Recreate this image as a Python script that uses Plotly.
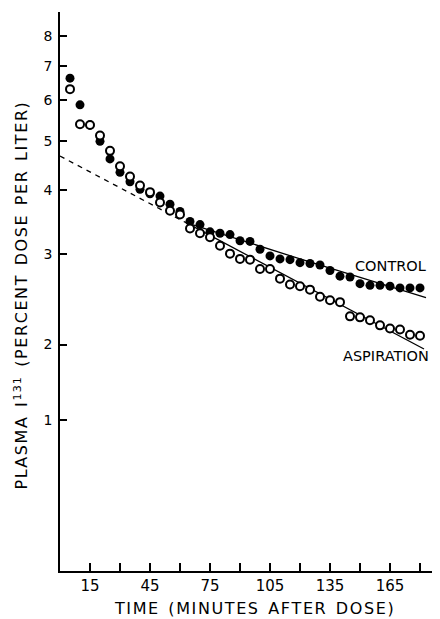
import plotly.graph_objects as go

# ---- data ----
time_min = [5, 10, 15, 20, 25, 30, 35, 40, 45, 50, 55, 60, 65, 70, 75, 80, 85, 90,
            95, 100, 105, 110, 115, 120, 125, 130, 135, 140, 145, 150, 155, 160,
            165, 170, 175, 180]
control = [6.63, 5.88, 5.37, 4.99, 4.61, 4.34, 4.16, 4.02, 3.94, 3.90, 3.76, 3.64,
           3.48, 3.43, 3.32, 3.30, 3.28, 3.19, 3.18, 3.07, 2.98, 2.94, 2.93, 2.89,
           2.88, 2.86, 2.79, 2.72, 2.71, 2.63, 2.61, 2.61, 2.60, 2.58, 2.58, 2.58]
aspiration = [6.31, 5.39, 5.37, 5.12, 4.78, 4.46, 4.26, 4.09, 3.97, 3.79, 3.65, 3.59,
              3.37, 3.30, 3.24, 3.12, 3.01, 2.94, 2.93, 2.81, 2.81, 2.69, 2.62, 2.60,
              2.56, 2.48, 2.44, 2.42, 2.27, 2.26, 2.23, 2.18, 2.15, 2.14, 2.09, 2.08]

# fitted lines
extrap_t = [0, 63]
extrap_y = [4.67, 3.46]
asp_fit_t = [63, 182]
asp_fit_y = [3.46, 1.96]
ctl_fit_t = [63, 120, 183]
ctl_fit_y = [3.46, 2.94, 2.47]

x_major = [15, 45, 75, 105, 135, 165]
x_minor = [30, 60, 90, 120, 150, 180]
y_ticks = [1.423, 2, 3, 4, 5, 6, 7, 8]
y_ticktext = ["1", "2", "3", "4", "5", "6", "7", "8"]

FONT = "DejaVu Sans"
HS = "\u200a"  # hair space, to imitate the wide lettering


def track(s):
    return HS.join(s)


x_title = "  ".join(track(w) for w in ["TIME", "(MINUTES", "AFTER", "DOSE)"])
y_title = (track("PLASMA") + "  " + "I" + HS + "<sup>" + track("131") + "</sup>" + "  "
           + "  ".join(track(w) for w in ["(PERCENT", "DOSE", "PER", "LITER)"]))

fig = go.Figure()
fig.add_trace(go.Scatter(x=extrap_t, y=extrap_y, mode="lines",
                         line=dict(color="black", width=1.3, dash="5px,5px"),
                         showlegend=False, hoverinfo="skip"))
fig.add_trace(go.Scatter(x=asp_fit_t, y=asp_fit_y, mode="lines",
                         line=dict(color="black", width=1.3),
                         showlegend=False, hoverinfo="skip"))
fig.add_trace(go.Scatter(x=ctl_fit_t, y=ctl_fit_y, mode="lines",
                         line=dict(color="black", width=1.3, shape="spline"),
                         showlegend=False, hoverinfo="skip"))
fig.add_trace(go.Scatter(x=time_min, y=control, mode="markers", name="CONTROL",
                         marker=dict(color="black", size=9, symbol="circle",
                                     line=dict(width=0)),
                         showlegend=False))
fig.add_trace(go.Scatter(x=time_min, y=aspiration, mode="markers", name="ASPIRATION",
                         marker=dict(color="white", size=8, symbol="circle",
                                     line=dict(color="black", width=2)),
                         showlegend=False))

# page body has an 8px default margin, so the figure is 8px smaller
fig.update_layout(
    width=432, height=611,
    margin=dict(l=52, r=0, t=4, b=48),
    paper_bgcolor="white", plot_bgcolor="white",
    font=dict(family=FONT, color="black"),
    xaxis=dict(range=[0, 190], showgrid=False, zeroline=False,
               showline=True, linecolor="black", linewidth=1.5,
               ticks="inside", ticklen=8, tickwidth=1.5, tickcolor="black",
               tickvals=x_major, ticktext=[str(v) for v in x_major],
               minor=dict(tickvals=x_minor, ticks="inside", ticklen=8,
                          tickwidth=1.5, tickcolor="black", showgrid=False),
               tickfont=dict(size=15, family=FONT)),
    yaxis=dict(type="log", range=[-0.1416, 0.9508], showgrid=False, zeroline=False,
               showline=True, linecolor="black", linewidth=1.5,
               ticks="inside", ticklen=7, tickwidth=1.5, tickcolor="black",
               tickvals=y_ticks, ticktext=y_ticktext, ticklabelstandoff=3,
               tickfont=dict(size=14, family=FONT)),
)

fig.add_annotation(text="CONTROL", xref="paper", yref="paper", x=0.871, y=0.5456,
                   showarrow=False, font=dict(size=14.5, family=FONT),
                   xanchor="center", yanchor="middle")
fig.add_annotation(text="ASPIRATION", xref="paper", yref="paper", x=0.858, y=0.3846,
                   showarrow=False, font=dict(size=14.5, family=FONT),
                   xanchor="center", yanchor="middle")
fig.add_annotation(text=x_title, xref="paper", yref="paper",
                   x=0.5097, y=-0.0662, showarrow=False,
                   font=dict(size=16, family=FONT),
                   xanchor="center", yanchor="middle")
fig.add_annotation(text=y_title,
                   xref="paper", yref="paper", x=-0.1013, y=0.492,
                   textangle=-90, showarrow=False,
                   font=dict(size=16, family=FONT),
                   xanchor="center", yanchor="middle")

fig.write_html("out.html")
